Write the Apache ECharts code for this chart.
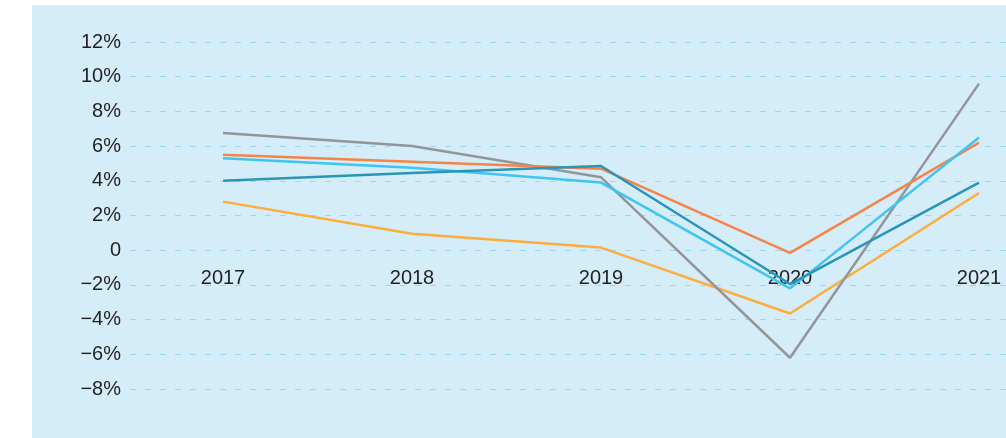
<!DOCTYPE html>
<html>
	<head>
		<meta charset="utf-8">
		<script src="https://cdn.jsdelivr.net/npm/echarts@6/dist/echarts.min.js"></script>
		<title>增长率</title>
		<style>
			html,
			body,
			#main {
				width: 100%;
				height: 100%;
				margin: 0;
				background: #fff;
			}
		</style>
	</head>
	<body>
		<div id="main"></div>
		<script type="text/javascript">
			// 数据
			var years = ['2017', '2018', '2019', '2020', '2021'];
			var orangeSeries = [5.5, 5.1, 4.7, -0.15, 6.2];
			var cyanSeries = [5.3, 4.75, 3.9, -2.2, 6.5];
			var tealSeries = [4.0, 4.45, 4.85, -1.95, 3.9];
			var graySeries = [6.75, 6.0, 4.2, -6.2, 9.6];
			var yellowSeries = [2.8, 0.95, 0.15, -3.65, 3.3];
			var yTicks = [-8, -6, -4, -2, 0, 2, 4, 6, 8, 10, 12];

			var myChart = echarts.init(document.getElementById('main'));
			var font = '"Liberation Sans", Arial, sans-serif';

			function line(data, color) {
				return {
					type: 'line',
					xAxisIndex: 1,
					yAxisIndex: 1,
					data: data,
					symbol: 'none',
					lineStyle: { color: color, width: 2.5 },
					itemStyle: { color: color }
				};
			}

			var option = {
				animation: false,
				graphic: [{
					type: 'rect',
					z: -10,
					shape: { x: 32, y: 5, width: 974, height: 433 },
					style: { fill: '#d5ecf9' }
				}],
				grid: [
					// 网格线和纵轴标签
					{ left: 130, right: 0, top: 42, bottom: 49 },
					// 折线
					{ left: 223, right: 27, top: 42, bottom: 49 }
				],
				xAxis: [{
					gridIndex: 0,
					type: 'value',
					show: false
				}, {
					gridIndex: 1,
					type: 'category',
					data: years,
					boundaryGap: false,
					axisLine: { show: false },
					axisTick: { show: false },
					axisLabel: {
						margin: -121,
						color: '#231f20',
						fontSize: 20,
						fontFamily: font
					}
				}],
				yAxis: [{
					gridIndex: 0,
					type: 'value',
					min: yTicks[0],
					max: yTicks[yTicks.length - 1],
					interval: 2,
					axisLine: { show: false },
					axisTick: { show: false },
					axisLabel: {
						margin: 9,
						color: '#231f20',
						fontSize: 20,
						fontFamily: font,
						formatter: function (v) {
							if (v === 0) return '0';
							return (v < 0 ? '\u2212' + Math.abs(v) : v) + '%';
						}
					},
					splitLine: {
						lineStyle: { color: '#9ad7f1', width: 1, type: [6, 9] }
					}
				}, {
					gridIndex: 1,
					type: 'value',
					min: yTicks[0],
					max: yTicks[yTicks.length - 1],
					interval: 2,
					show: false,
					splitLine: { show: false }
				}],
				series: [
					line(yellowSeries, '#fbae3c'),
					line(graySeries, '#939598'),
					line(orangeSeries, '#f58447'),
					line(cyanSeries, '#3fc5f0'),
					line(tealSeries, '#2b95b8')
				]
			};

			myChart.setOption(option);

			window.onresize = function () {
				myChart.resize();
			};
		</script>
	</body>
</html>
